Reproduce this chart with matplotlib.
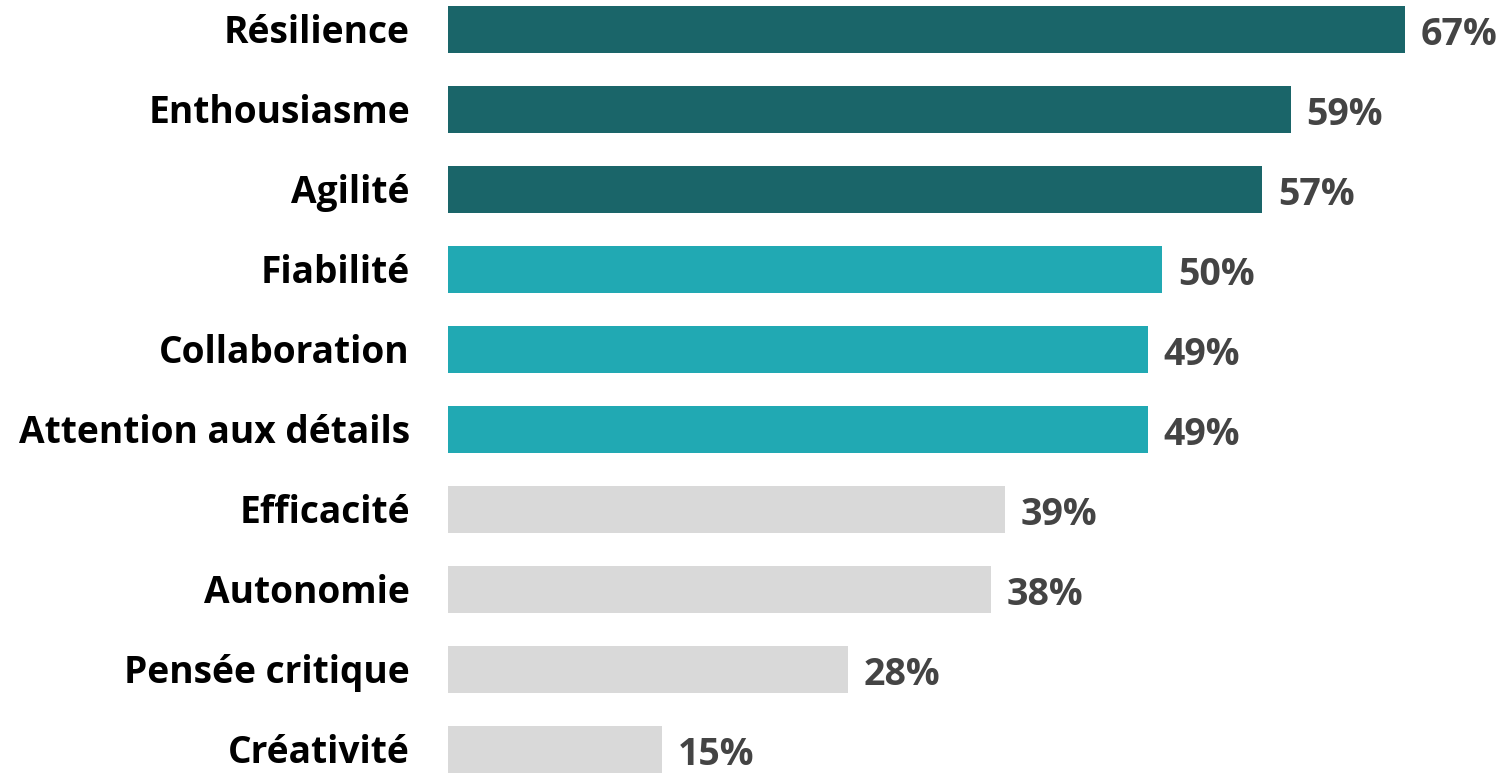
#!/usr/bin/python3

# Import necessary libraries
import numpy as np
import matplotlib
matplotlib.use("Agg")
import matplotlib.pyplot as plt

plt.rcParams['font.family'] = ['Open Sans', 'DejaVu Sans']

# Data
categories = ["Résilience", "Enthousiasme", "Agilité", "Fiabilité", "Collaboration",
              "Attention aux détails", "Efficacité", "Autonomie", "Pensée critique", "Créativité"]
values = [67, 59, 57, 50, 49, 49, 39, 38, 28, 15]
groups = [0, 0, 0, 1, 1, 1, 2, 2, 2, 2]

group_colors = ["#1A6569", "#21A9B3", "#D9D9D9"]

fig = plt.figure(figsize=(15.01, 7.74), dpi=100)
ax = fig.add_axes([448 / 1501, 0, 1 - 448 / 1501, 1])

y = np.arange(len(categories))
colors = [group_colors[g] for g in groups]
ax.barh(y, values, height=0.59, color=colors)

# axis limits so bars line up with the reference pixels
ax.set_xlim(0, 1053 / 14.28)
ax.set_ylim(9 + 24.5 / 80, -29.75 / 80)

# value labels
for yi, v in zip(y, values):
    ax.annotate(f"{v}%", xy=(v, yi), xytext=(16 * 0.72, -15 * 0.72),
                textcoords="offset points", ha="left", va="baseline",
                fontsize=27, fontweight="bold", color="#444444")

# category labels
for yi, c in zip(y, categories):
    ax.annotate(c, xy=(0, yi), xytext=(-38 * 0.72, -13 * 0.72),
                textcoords="offset points", ha="right", va="baseline",
                fontsize=26.7, fontweight="bold", color="black",
                annotation_clip=False)

ax.axis("off")
fig.savefig("out.png", dpi=100)
